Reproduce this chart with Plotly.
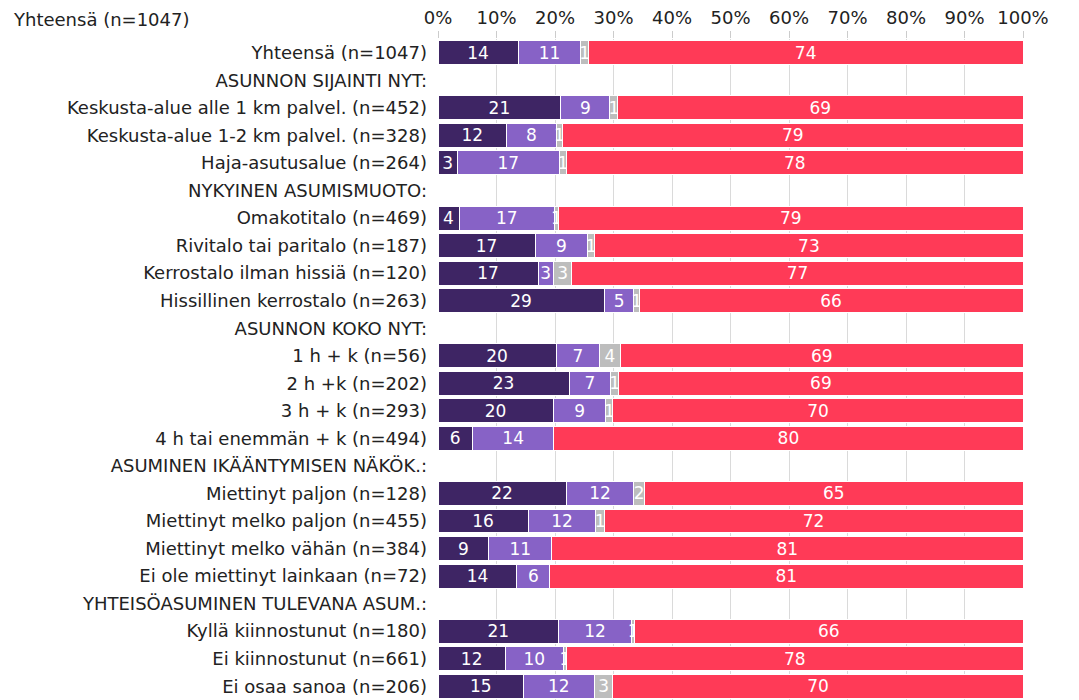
import plotly.graph_objects as go

categories = [
    "Yhteensä (n=1047)",
    "ASUNNON SIJAINTI NYT:",
    "Keskusta-alue alle 1 km palvel. (n=452)",
    "Keskusta-alue 1-2 km palvel. (n=328)",
    "Haja-asutusalue (n=264)",
    "NYKYINEN ASUMISMUOTO:",
    "Omakotitalo (n=469)",
    "Rivitalo tai paritalo (n=187)",
    "Kerrostalo ilman hissiä (n=120)",
    "Hissillinen kerrostalo (n=263)",
    "ASUNNON KOKO NYT:",
    "1 h + k (n=56)",
    "2 h +k (n=202)",
    "3 h + k (n=293)",
    "4 h tai enemmän + k (n=494)",
    "ASUMINEN IKÄÄNTYMISEN NÄKÖK.:",
    "Miettinyt paljon (n=128)",
    "Miettinyt melko paljon (n=455)",
    "Miettinyt melko vähän (n=384)",
    "Ei ole miettinyt lainkaan (n=72)",
    "YHTEISÖASUMINEN TULEVANA ASUM.:",
    "Kyllä kiinnostunut (n=180)",
    "Ei kiinnostunut (n=661)",
    "Ei osaa sanoa (n=206)",
]

N = None
s1 = [13.7, N, 21.0, 11.7, 3.3, N, 3.6, 16.6, 17.1, 28.4, N, 20.2, 22.4, 19.7, 5.9, N, 21.9, 15.4, 8.7, 13.5, N, 20.6, 11.5, 14.6]
s2 = [10.7, N, 8.4, 8.5, 17.4, N, 16.3, 9.0, 2.6, 5.1, N, 7.4, 7.1, 9.0, 13.9, N, 11.6, 11.6, 10.7, 5.6, N, 12.5, 9.9, 12.1]
s3 = [1.3, N, 1.3, 1.1, 1.3, N, 0.7, 1.2, 3.2, 0.9, N, 3.6, 1.4, 1.2, 0.0, N, 1.8, 1.4, 0.0, 0.0, N, 0.5, 0.6, 3.2]
s4 = [74.3, N, 69.3, 78.7, 78.0, N, 79.4, 73.2, 77.1, 65.6, N, 68.8, 69.1, 70.1, 80.2, N, 64.7, 71.6, 80.6, 80.9, N, 66.4, 78.0, 70.1]

t1 = ["14", "", "21", "12", "3", "", "4", "17", "17", "29", "", "20", "23", "20", "6", "", "22", "16", "9", "14", "", "21", "12", "15"]
t2 = ["11", "", "9", "8", "17", "", "17", "9", "3", "5", "", "7", "7", "9", "14", "", "12", "12", "11", "6", "", "12", "10", "12"]
t3 = ["1", "", "1", "1", "1", "", "1", "1", "3", "1", "", "4", "1", "1", "", "", "2", "1", "", "", "", "1", "1", "3"]
t4 = ["74", "", "69", "79", "78", "", "79", "73", "77", "66", "", "69", "69", "70", "80", "", "65", "72", "81", "81", "", "66", "78", "70"]

ticks = [0, 10, 20, 30, 40, 50, 60, 70, 80, 90, 100]
tick_labels = [f"{t}%" for t in ticks]

colors = ["#3e2564", "#8762c6", "#bdbdbd", "#ff3a57"]
FONT = "DejaVu Sans"
LBL = 18

fig = go.Figure()
for vals, txt, col in zip([s1, s2, s3, s4], [t1, t2, t3, t4], colors):
    fig.add_trace(go.Bar(
        y=categories, x=vals, orientation="h", text=txt,
        textposition="inside", insidetextanchor="middle", textangle=0,
        constraintext="none", cliponaxis=False,
        textfont=dict(color="white", size=17, family=FONT),
        marker=dict(color=col, line=dict(color="white", width=1)),
        hoverinfo="skip", showlegend=False,
    ))

# the page body has an 8px margin, so the figure is sized to fit the window
fig.update_layout(
    barmode="stack", bargap=0.13,
    width=1071, height=692,
    margin=dict(l=430, r=56, t=31, b=0, autoexpand=False),
    paper_bgcolor="white", plot_bgcolor="white",
    font=dict(family=FONT, size=LBL, color="#222222"),
    xaxis=dict(
        side="top", range=[0, 100], tickvals=ticks, ticktext=tick_labels,
        showgrid=True, gridcolor="#dadada", gridwidth=1,
        ticks="outside", ticklen=7, tickcolor="#cccccc",
        zeroline=False, showline=False, fixedrange=True,
        tickfont=dict(size=LBL, family=FONT, color="#222222"),
    ),
    yaxis=dict(
        autorange="reversed", type="category", showgrid=False,
        ticks="", ticklabelstandoff=10,
        tickfont=dict(size=LBL, family=FONT, color="#222222"),
    ),
    annotations=[dict(
        text="Yhteensä (n=1047)", xref="paper", yref="paper",
        x=(3 - 430) / 585, y=1 + (31 - 12) / 661, xanchor="left", yanchor="middle",
        showarrow=False, font=dict(size=LBL, family=FONT, color="#222222"),
    )],
)

fig.write_html("out.html")
